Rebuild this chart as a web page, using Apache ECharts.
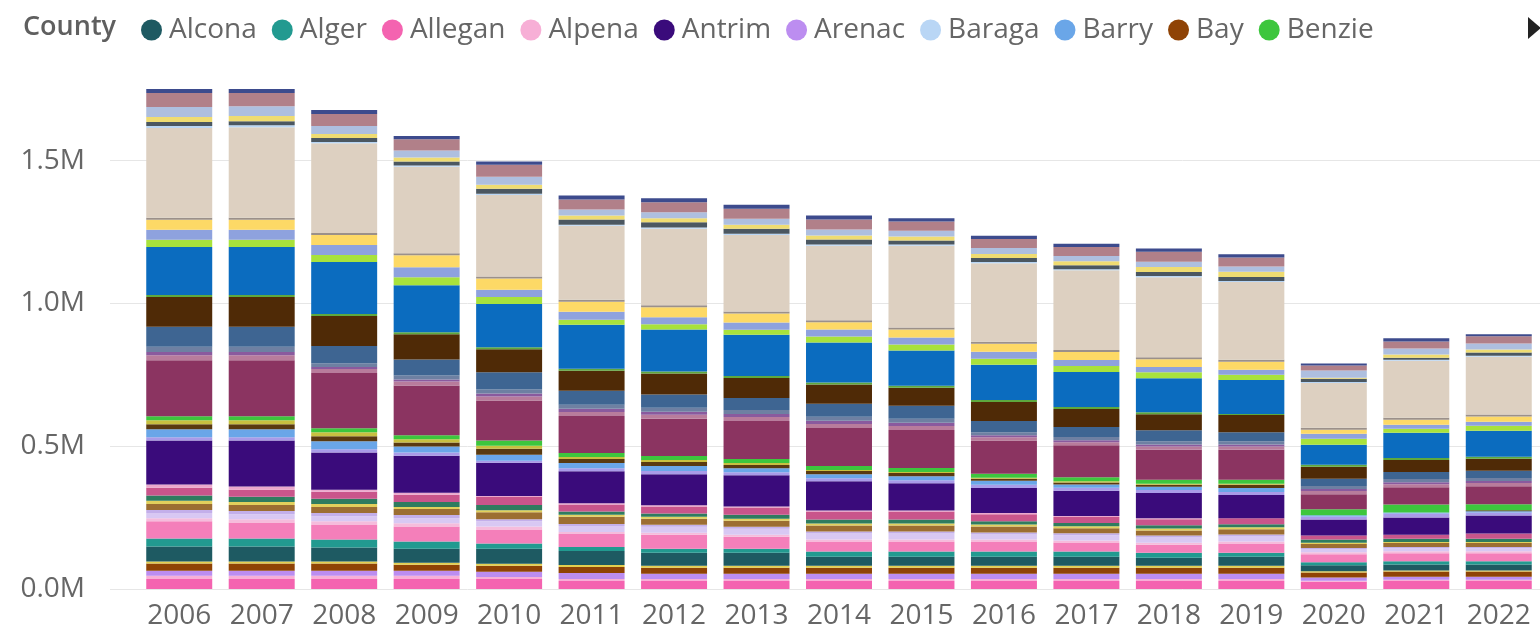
<!DOCTYPE html>
<html>
<head>
<meta charset="utf-8">
<script src="https://cdn.jsdelivr.net/npm/echarts@6/dist/echarts.min.js"></script>
<style>
  html, body { margin: 0; padding: 0; background: #fff; }
  #chart { width: 1540px; height: 634px; }
</style>
</head>
<body>
<div id="chart"></div>
<script>
// years on the x axis
const years = ['2006', '2007', '2008', '2009', '2010', '2011', '2012', '2013', '2014',
  '2015', '2016', '2017', '2018', '2019', '2020', '2021', '2022'];

// values per county, in thousands (bottom of the stack first)
const allegan = [35, 35, 35, 35, 35, 28, 28, 28, 28, 28, 28, 28, 28, 28, 25, 28, 28];
const alpena = [11, 11, 11, 11, 7, 7, 7, 7, 7, 7, 7, 7, 7, 7, 4, 4, 4];
const arenac = [18, 18, 18, 18, 18, 21, 18, 18, 18, 18, 18, 18, 18, 18, 11, 11, 11];
const bay = [25, 25, 25, 21, 21, 21, 21, 21, 21, 21, 21, 21, 21, 21, 18, 18, 18];
const branch = [7, 7, 7, 7, 7, 7, 7, 7, 7, 7, 7, 7, 7, 7, 4, 4, 4];
const alcona = [53, 53, 49, 49, 53, 49, 46, 46, 32, 32, 32, 32, 28, 32, 21, 21, 21];
const alger = [28, 28, 28, 25, 18, 14, 14, 14, 18, 18, 18, 18, 18, 14, 11, 11, 11];
const calhoun = [60, 56, 53, 53, 49, 46, 49, 42, 35, 35, 35, 32, 28, 32, 28, 28, 28];
const cass = [11, 11, 11, 11, 11, 7, 7, 7, 7, 7, 7, 7, 7, 7, 7, 7, 7];
const charlevoix = [18, 18, 18, 18, 18, 21, 21, 21, 21, 21, 18, 18, 18, 18, 11, 11, 11];
const cheboygan = [11, 11, 11, 11, 7, 7, 7, 7, 7, 7, 7, 7, 7, 7, 4, 4, 4];
const chippewa = [21, 21, 21, 21, 25, 25, 21, 21, 21, 21, 21, 18, 18, 18, 14, 14, 14];
const clare = [11, 11, 11, 7, 7, 7, 7, 7, 7, 7, 7, 7, 7, 7, 4, 4, 4];
const clinton = [18, 18, 18, 18, 18, 11, 11, 14, 14, 14, 11, 11, 11, 11, 11, 11, 11];
const crawford = [28, 25, 25, 25, 28, 25, 25, 25, 28, 28, 25, 21, 21, 21, 14, 14, 18];
const delta = [11, 11, 7, 7, 4, 4, 4, 4, 4, 4, 4, 4, 4, 0, 0, 0, 0];
const antrim = [154, 161, 130, 130, 116, 112, 109, 109, 102, 95, 88, 88, 88, 81, 56, 60, 63];
const dickinson = [11, 11, 11, 11, 7, 11, 11, 11, 11, 11, 11, 11, 11, 11, 11, 14, 11];
const barry = [28, 28, 28, 21, 21, 18, 18, 14, 14, 14, 14, 11, 11, 14, 4, 4, 4];
const eaton = [18, 18, 18, 14, 21, 14, 14, 11, 11, 11, 7, 7, 7, 11, 0, 0, 4];
const emmet = [14, 14, 14, 11, 11, 7, 7, 7, 4, 4, 4, 4, 4, 4, 0, 0, 0];
const benzie = [14, 14, 14, 14, 18, 14, 14, 14, 14, 14, 14, 14, 14, 14, 21, 28, 21];
const genesee = [196, 196, 193, 175, 140, 130, 130, 133, 133, 133, 116, 112, 105, 105, 53, 60, 63];
const gladwin = [18, 18, 14, 14, 14, 14, 14, 14, 14, 14, 11, 11, 11, 11, 11, 11, 11];
const gogebic = [11, 11, 7, 7, 11, 11, 11, 11, 11, 11, 7, 7, 7, 7, 7, 7, 7];
const grandTraverse = [18, 18, 14, 14, 14, 14, 14, 14, 14, 14, 11, 11, 11, 11, 11, 11, 11];
const ingham = [70, 70, 60, 56, 60, 49, 46, 42, 46, 46, 39, 35, 39, 32, 25, 25, 25];
const jackson = [105, 105, 105, 88, 81, 70, 74, 70, 67, 63, 67, 63, 56, 60, 42, 42, 42];
const kalkaska = [7, 7, 7, 7, 7, 7, 7, 7, 7, 7, 7, 7, 7, 4, 7, 7, 7];
const kent = [168, 168, 182, 165, 151, 154, 147, 144, 140, 123, 123, 123, 119, 119, 70, 88, 91];
const lapeer = [25, 25, 25, 28, 25, 18, 18, 18, 21, 21, 21, 21, 21, 18, 21, 14, 18];
const livingston = [35, 35, 35, 35, 25, 28, 25, 25, 25, 25, 25, 21, 18, 18, 18, 14, 14];
const macomb = [35, 35, 35, 42, 39, 35, 35, 32, 25, 28, 28, 28, 28, 28, 14, 18, 18];
const monroe = [7, 7, 7, 7, 7, 7, 7, 7, 7, 7, 7, 7, 7, 7, 7, 7, 7];
const wayne = [314, 317, 314, 303, 286, 259, 268, 268, 261, 286, 275, 279, 280, 272, 156, 199, 202];
const baraga = [7, 7, 4, 4, 4, 4, 4, 4, 4, 4, 4, 4, 4, 4, 4, 4, 4];
const washtenaw = [14, 14, 14, 14, 18, 18, 18, 18, 18, 14, 14, 14, 14, 14, 11, 7, 11];
const vanBuren = [18, 18, 14, 14, 14, 14, 14, 14, 14, 14, 14, 14, 18, 18, 4, 11, 11];
const saginaw = [35, 35, 28, 25, 28, 21, 21, 21, 21, 21, 21, 18, 18, 18, 25, 21, 21];
const oakland = [49, 46, 42, 39, 42, 35, 35, 35, 35, 32, 32, 32, 35, 32, 18, 25, 25];
const ottawa = [14, 14, 14, 11, 11, 14, 14, 14, 14, 11, 11, 11, 11, 11, 7, 11, 7];

// legend shows only the first page of counties
const legendCounties = ['Alcona', 'Alger', 'Allegan', 'Alpena', 'Antrim',
  'Arenac', 'Baraga', 'Barry', 'Bay', 'Benzie'];

// stacking order, bottom to top
const stack = [
  ['Allegan', allegan], ['Alpena', alpena], ['Arenac', arenac], ['Bay', bay],
  ['Branch', branch], ['Alcona', alcona], ['Alger', alger], ['Calhoun', calhoun],
  ['Cass', cass], ['Charlevoix', charlevoix], ['Cheboygan', cheboygan],
  ['Chippewa', chippewa], ['Clare', clare], ['Clinton', clinton],
  ['Crawford', crawford], ['Delta', delta], ['Antrim', antrim],
  ['Dickinson', dickinson], ['Barry', barry], ['Eaton', eaton], ['Emmet', emmet],
  ['Benzie', benzie], ['Genesee', genesee], ['Gladwin', gladwin],
  ['Gogebic', gogebic], ['Grand Traverse', grandTraverse], ['Ingham', ingham],
  ['Jackson', jackson], ['Kalkaska', kalkaska], ['Kent', kent], ['Lapeer', lapeer],
  ['Livingston', livingston], ['Macomb', macomb], ['Monroe', monroe],
  ['Wayne', wayne], ['Baraga', baraga], ['Washtenaw', washtenaw],
  ['Van Buren', vanBuren], ['Saginaw', saginaw], ['Oakland', oakland],
  ['Ottawa', ottawa]
];

const countyColors = {
  'Allegan': '#F463B0', 'Alpena': '#F7AFD6', 'Arenac': '#BC8DF0', 'Bay': '#8F4305',
  'Branch': '#E3CF4E', 'Alcona': '#1E5A62', 'Alger': '#229A90', 'Calhoun': '#F47FBA',
  'Cass': '#F5BCDC', 'Charlevoix': '#D8C8F3', 'Cheboygan': '#C3AFEA',
  'Chippewa': '#9C6E32', 'Clare': '#E2D05C', 'Clinton': '#2F7C5F',
  'Crawford': '#C9558B', 'Delta': '#EBA8CD', 'Antrim': '#3A0B7B',
  'Dickinson': '#A99BE8', 'Barry': '#6AA6E8', 'Eaton': '#5A3A10', 'Emmet': '#C8C040',
  'Benzie': '#3DC63D', 'Genesee': '#8B3461', 'Gladwin': '#B87C9C',
  'Gogebic': '#8A5A9E', 'Grand Traverse': '#6E80A2', 'Ingham': '#3E6592',
  'Jackson': '#4F2A06', 'Kalkaska': '#5EA83E', 'Kent': '#0B6CBF', 'Lapeer': '#A8E23C',
  'Livingston': '#8EA2DE', 'Macomb': '#FDD966', 'Monroe': '#9B908A',
  'Wayne': '#DDD0C1', 'Baraga': '#B9D6F5', 'Washtenaw': '#4B5761',
  'Van Buren': '#EFDC72', 'Saginaw': '#AEBFDF', 'Oakland': '#B18089',
  'Ottawa': '#3D4B8D'
};

const font = "'Segoe UI', 'Open Sans', sans-serif";

const chart = echarts.init(document.getElementById('chart'));

chart.setOption({
  animation: false,
  textStyle: { fontFamily: font },
  title: {
    text: 'County',
    left: 18,
    top: 9,
    textStyle: { fontFamily: font, fontSize: 27, fontWeight: 600, color: '#5f5f5f' }
  },
  legend: {
    data: legendCounties,
    left: 136,
    top: 11,
    icon: 'circle',
    itemWidth: 25,
    itemHeight: 21,
    itemGap: 15,
    textStyle: { fontFamily: font, fontSize: 28, color: '#666' }
  },
  graphic: [{
    type: 'polygon',
    shape: { points: [[1528, 17], [1541, 28], [1528, 39]] },
    style: { fill: '#222' }
  }],
  grid: [
    { left: 138, top: 75, width: 1412, height: 514 },
    { left: 110, top: 75, right: 0, height: 514 }
  ],
  xAxis: [
    {
      type: 'category',
      gridIndex: 0,
      data: years,
      axisLine: { show: false },
      axisTick: { show: false },
      axisLabel: { interval: 0, color: '#666', fontSize: 28, margin: 13, fontFamily: font }
    },
    { type: 'value', gridIndex: 1, show: false }
  ],
  yAxis: [
    { type: 'value', gridIndex: 0, min: 0, max: 1800, interval: 500, show: false },
    {
      type: 'value',
      gridIndex: 1,
      min: 0,
      max: 1800,
      interval: 500,
      axisLine: { show: false },
      axisTick: { show: false },
      splitLine: { showMaxLine: false, lineStyle: { color: '#e6e6e6', width: 1 } },
      axisLabel: {
        showMaxLabel: false,
        margin: 25,
        color: '#666',
        fontSize: 28,
        fontFamily: font,
        formatter: v => (v / 1000).toFixed(1) + 'M'
      }
    }
  ],
  series: stack.map(([name, values]) => ({
    name,
    type: 'bar',
    stack: 'total',
    xAxisIndex: 0,
    yAxisIndex: 0,
    barCategoryGap: '20%',
    itemStyle: { color: countyColors[name] },
    data: values
  }))
});
</script>
</body>
</html>
